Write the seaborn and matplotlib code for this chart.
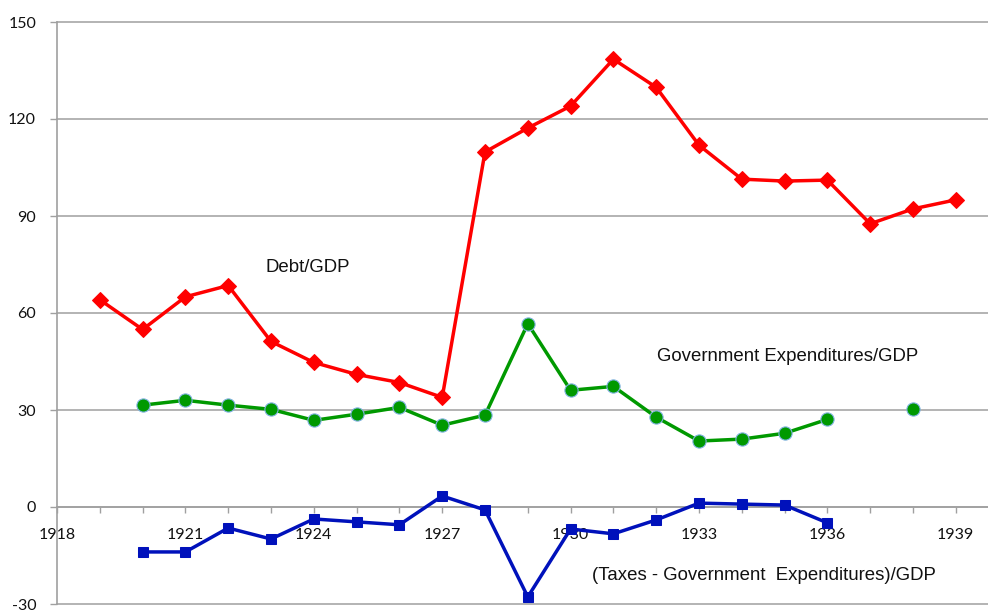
import numpy as np
import pandas as pd
import matplotlib
matplotlib.use("Agg")
import matplotlib.pyplot as plt
from matplotlib.ticker import MultipleLocator
import seaborn as sns

years = list(range(1919, 1940))
debt = [64.1, 54.9, 65.0, 68.5, 51.2, 44.7, 41.0, 38.5, 33.9, 109.8, 117.2, 124.0,
        138.5, 129.8, 111.9, 101.4, 100.8, 101.1, 87.6, 92.2, 95.0]
gov_exp = [np.nan, 31.5, 33.0, 31.5, 30.2, 26.8, 28.7, 30.8, 25.3, 28.4, 56.7, 36.1,
           37.3, 27.8, 20.4, 21.0, 22.8, 27.1, np.nan, 30.2, np.nan]
balance = [np.nan, -13.9, -13.9, -6.5, -9.9, -3.7, -4.6, -5.5, 3.4, -0.9, -27.8, -6.8,
           -8.3, -4.0, 1.2, 0.9, 0.6, -4.9, np.nan, np.nan, np.nan]

x_ticks = [1918, 1921, 1924, 1927, 1930, 1933, 1936, 1939]
y_ticks = [-30, 0, 30, 60, 90, 120, 150]

labels = {
    "debt": "Debt/GDP",
    "gov": "Government Expenditures/GDP",
    "bal": "(Taxes - Government  Expenditures)/GDP",
}

sns.set_style("white")
plt.rcParams["font.family"] = ["Lato", "DejaVu Sans"]

fig = plt.figure(figsize=(9.88, 6.10), dpi=100)
ax = fig.add_axes([57 / 988, 6 / 610, 941.6 / 988, 582 / 610])


def segments(vals):
    s = pd.Series(vals, dtype=float)
    seg = s.isna().cumsum()
    df = pd.DataFrame({"year": years, "value": s, "seg": seg})
    return df.dropna()


grid_c = "#b3b3b3"
for y in y_ticks:
    ax.axhline(y, color=grid_c, lw=1.4, zorder=0, clip_on=False)

d_debt = segments(debt)
sns.lineplot(data=d_debt, x="year", y="value", units="seg", estimator=None, ax=ax,
             color="#ff0000", lw=2.5, marker="D", markersize=8,
             markeredgecolor="#ff0000", zorder=3)

d_gov = segments(gov_exp)
sns.lineplot(data=d_gov, x="year", y="value", units="seg", estimator=None, ax=ax,
             color="#009900", lw=2.5, marker="o", markersize=9.5,
             markeredgecolor="#7fb2e0", markeredgewidth=0.8, zorder=3)

d_bal = segments(balance)
sns.lineplot(data=d_bal, x="year", y="value", units="seg", estimator=None, ax=ax,
             color="#0011bb", lw=2.5, marker="s", markersize=7.5,
             markeredgecolor="#0011bb", zorder=3)

ax.set_xlim(1918, 1940)
ax.set_ylim(-30, 150)
ax.set_xlabel("")
ax.set_ylabel("")

for s in ["top", "right"]:
    ax.spines[s].set_visible(False)
ax.spines["bottom"].set_position(("data", 0))
ax.spines["bottom"].set_color("#a0a0a0")
ax.spines["left"].set_color("#a0a0a0")
ax.spines["bottom"].set_linewidth(1.2)
ax.spines["left"].set_linewidth(1.2)

ax.set_xticks(x_ticks)
ax.set_xticklabels([str(t) for t in x_ticks])
ax.xaxis.set_minor_locator(MultipleLocator(1))
ax.tick_params(axis="x", which="both", direction="out", length=4, width=1,
               color="#a0a0a0", bottom=True)
ax.tick_params(axis="x", which="major", pad=11, labelsize=11.5, labelcolor="#111111")
ax.set_yticks(y_ticks)
ax.set_yticklabels([str(t) for t in y_ticks])
ax.tick_params(axis="y", direction="out", length=5, width=1, color="#a0a0a0",
               left=True, pad=10, labelsize=11.5, labelcolor="#111111")

tfont = dict(family=["Liberation Sans", "DejaVu Sans"], fontsize=13.4, color="#111111",
             va="center", ha="left")
ax.text(1922.86, 74, labels["debt"], **tfont)
ax.text(1932.02, 46.6, labels["gov"], **tfont)
ax.text(1930.5, -21.3, labels["bal"], **tfont)

fig.savefig("out.png", dpi=100)
